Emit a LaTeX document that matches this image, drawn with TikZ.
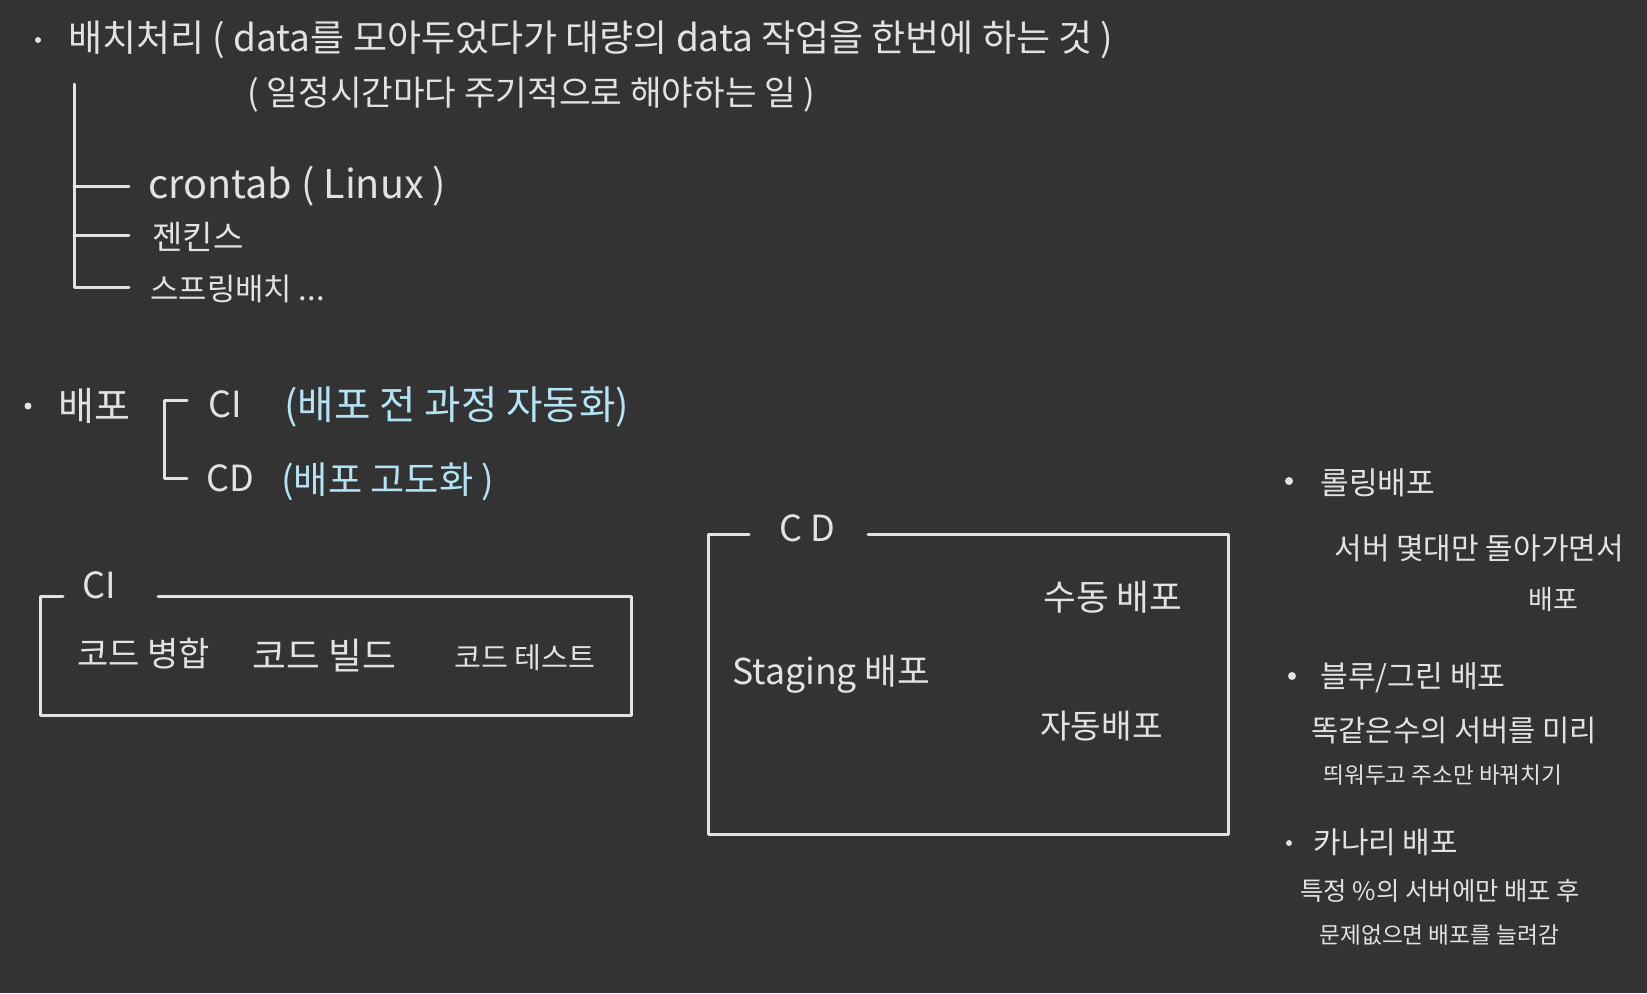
\documentclass[tikz,border=0pt]{standalone}
\usepackage{fontspec}
\setmainfont{Noto Sans CJK KR}
\definecolor{bg}{RGB}{51,51,51}
\definecolor{ink}{RGB}{226,226,226}
\definecolor{sky}{RGB}{178,228,245}
\newcommand\fsz[1]{\fontsize{#1}{#1}\selectfont}
\tikzset{
  txt/.style={text=ink, inner sep=0pt, anchor=west},
  bluetxt/.style={text=sky, inner sep=0pt, anchor=west},
  rule/.style={draw=ink, line width=1.5pt, line cap=round, line join=round},
  bullet/.style={circle, fill=ink, inner sep=0pt, minimum size=#1},
}
\begin{document}
\begin{tikzpicture}[x=0.5pt,y=-0.5pt]
\fill[bg] (0,0) rectangle (1647,993);
\useasboundingbox (0,0) rectangle (1647,993);

% ---- batch processing
\node[bullet=3pt] (b1) at (38,40) {};
\node[txt,font=\fsz{18.5pt}] (batch) at (68,40) {배치처리 ( data를 모아두었다가 대량의 data 작업을 한번에 하는 것 )};
\node[txt,font=\fsz{17.2pt}] (batch2) at (247,95) {( 일정시간마다 주기적으로 해야하는 일 )};
\node[txt,font=\fsz{19.8pt}] (cron) at (148,186) {crontab ( Linux )};
\node[txt,font=\fsz{16.5pt}] (jenk) at (152,237) {젠킨스};
\node[txt,font=\fsz{15.4pt}] (spring) at (150,289) {스프링배치 ...};
\coordinate (ttop) at (74,84);
\coordinate (tb1) at (129,186);
\coordinate (tb2) at (129,235);
\coordinate (tb3) at (129,287);
\draw[rule] (ttop) -- (74,287) -- (tb3);
\draw[rule] (74,186) -- (tb1);
\draw[rule] (74,235) -- (tb2);

% ---- deploy
\node[bullet=3.5pt] (b2) at (28,406) {};
\node[txt,font=\fsz{19.5pt}] (deploy) at (58,406) {배포};
\coordinate (brt) at (187,400);
\coordinate (brb) at (187,478);
\draw[rule] (brt) -- (164,400) -- (164,478) -- (brb);
\node[txt,font=\fsz{18pt}] (ci) at (208,404) {CI};
\node[bluetxt,font=\fsz{19.8pt}] (cidesc) at (284,407) {(배포 전 과정 자동화)};
\node[txt,font=\fsz{18pt}] (cd) at (206,478) {CD};
\node[bluetxt,font=\fsz{18.6pt}] (cddesc) at (281,482) {(배포 고도화 )};

% ---- CI box
\coordinate (cia) at (63,596);
\coordinate (cib) at (158,596);
\draw[rule] (cia) -- (40,596) -- (40,715) -- (631,715) -- (631,596) -- (cib);
\node[txt,font=\fsz{18pt}] (cilabel) at (82,585) {CI};
\node[txt,font=\fsz{17pt}] (merge) at (77,654) {코드 병합};
\node[txt,font=\fsz{18.4pt}] (build) at (252,656) {코드 빌드};
\node[txt,font=\fsz{14.6pt}] (test) at (454,658) {코드 테스트};

% ---- CD box
\coordinate (cda) at (749,534);
\coordinate (cdb) at (868,534);
\draw[rule] (cda) -- (708,534) -- (708,834) -- (1228,834) -- (1228,534) -- (cdb);
\node[txt,font=\fsz{18pt}] (cdlabel) at (779,528) {C D};
\node[txt,font=\fsz{17.8pt}] (staging) at (732,674) {Staging 배포};
\node[txt,font=\fsz{17.8pt}] (manual) at (1043,597) {수동 배포};
\node[txt,font=\fsz{16.6pt}] (auto) at (1040,726) {자동배포};

% ---- strategies
\node[bullet=4pt] (b3) at (1289,481) {};
\node[txt,font=\fsz{15.6pt}] (rolling) at (1320,483) {롤링배포};
\node[txt,font=\fsz{15pt}] (rolling1) at (1334,548) {서버 몇대만 돌아가면서};
\node[txt,font=\fsz{13.5pt}] (rolling2) at (1528,599) {배포};

\node[bullet=4pt] (b4) at (1292,676) {};
\node[txt,font=\fsz{15.1pt}] (bg) at (1320,678) {블루/그린 배포};
\node[txt,font=\fsz{14.8pt}] (bg1) at (1311,730) {똑같은수의 서버를 미리};
\node[txt,font=\fsz{11.3pt}] (bg2) at (1323,775) {띄워두고 주소만 바꿔치기};

\node[bullet=3pt] (b5) at (1289,843) {};
\node[txt,font=\fsz{15pt}] (canary) at (1313,842) {카나리 배포};
\node[txt,font=\fsz{12.7pt}] (canary1) at (1300,891) {특정 \%의 서버에만 배포 후};
\node[txt,font=\fsz{11.35pt}] (canary2) at (1319,935) {문제없으면 배포를 늘려감};
\end{tikzpicture}
\end{document}
